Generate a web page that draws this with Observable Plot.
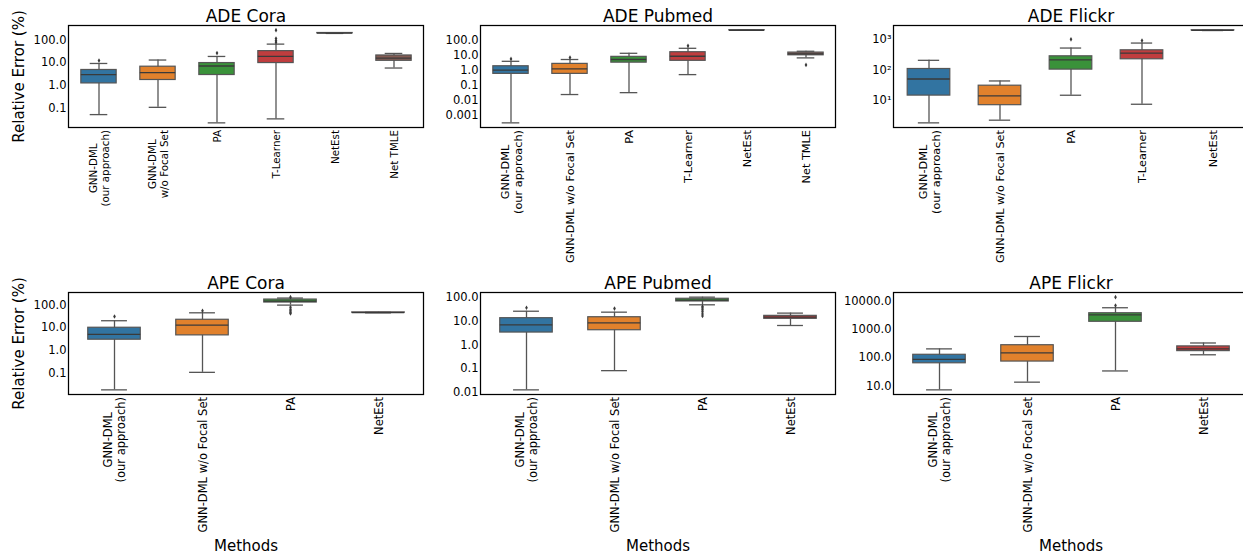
<!DOCTYPE html>
<html><head><meta charset="utf-8">
<script src="https://cdn.jsdelivr.net/npm/d3@7"></script>
<script src="https://cdn.jsdelivr.net/npm/@observablehq/plot@0.6"></script>
<style>
body{margin:0;background:#fff;}
#chart{position:relative;width:1243px;height:556px;overflow:hidden;background:#fff;font-family:"DejaVu Sans";}
#chart svg{position:absolute;}
</style></head><body><div id="chart"></div>
<script>
// ---------- data ----------
const palette = ["#3274a1", "#e1812c", "#3a923a", "#c03d3e", "#9372b2", "#845b53"];

// ADE Cora
const adeCoraMethods = ["GNN-DML\n(our approach)", "GNN-DML\nw/o Focal Set", "PA", "T-Learner", "NetEst", "Net TMLE"];
const adeCoraLo  = [0.051, 0.107, 0.022, 0.033, 198, 5.85];
const adeCoraQ1  = [1.22, 1.73, 2.87, 9.7, 201, 12.2];
const adeCoraMed = [2.96, 3.63, 7.2, 19, 204, 16.1];
const adeCoraQ3  = [4.8, 6.7, 9.7, 32.7, 207, 21];
const adeCoraHi  = [9.3, 13.2, 19, 66.7, 210, 25.8];
const adeCoraOut = [[0, 12.5], [2, 26.7], [3, 80], [3, 95], [3, 118], [3, 277]];
const adeCoraTicks = [0.1, 1, 10, 100];

// ADE Pubmed
const adePubMethods = ["GNN-DML\n(our approach)", "GNN-DML w/o Focal Set", "PA", "T-Learner", "NetEst", "Net TMLE"];
const adePubLo  = [0.00032, 0.024, 0.032, 0.5, 425, 6.4];
const adePubQ1  = [0.56, 0.56, 3.1, 4.1, 430, 9.5];
const adePubMed = [1.0, 1.2, 5.0, 8.2, 433, 11.7];
const adePubQ3  = [1.79, 2.57, 7.5, 15.2, 436, 14.4];
const adePubHi  = [3.8, 5.0, 12.9, 27.6, 440, 17.6];
const adePubOut = [[0, 5.5], [1, 6.7], [3, 40], [5, 2.2]];
const adePubTicks = [0.001, 0.01, 0.1, 1, 10, 100];

// ADE Flickr
const adeFlkMethods = ["GNN-DML\n(our approach)", "GNN-DML w/o Focal Set", "PA", "T-Learner", "NetEst"];
const adeFlkLo  = [1.77, 2.17, 14.5, 7.3, 2000];
const adeFlkQ1  = [14.1, 6.8, 102, 224, 2015];
const adeFlkMed = [50, 13.8, 213, 357, 2030];
const adeFlkQ3  = [107, 30, 281, 444, 2045];
const adeFlkHi  = [207, 43, 527, 770, 2060];
const adeFlkOut = [[2, 1020], [3, 930]];
const adeFlkTicks = [10, 100, 1000];

// APE Cora
const apeMethods = ["GNN-DML\n(our approach)", "GNN-DML w/o Focal Set", "PA", "NetEst"];
const apeCoraLo  = [0.018, 0.107, 100, 45.5];
const apeCoraQ1  = [2.96, 4.6, 130, 46.3];
const apeCoraMed = [5.07, 13.1, 150, 47];
const apeCoraQ3  = [10, 22.5, 176, 47.7];
const apeCoraHi  = [20.4, 45.7, 205, 48.5];
const apeCoraOut = [[0, 31.5], [1, 56], [2, 225], [2, 80], [2, 66], [2, 56], [2, 48], [2, 42.7]];
const apeCoraTicks = [0.1, 1, 10, 100];

// APE Pubmed
const apePubLo  = [0.0129, 0.083, 49, 6.6];
const apePubQ1  = [3.33, 4.17, 67.7, 12.6];
const apePubMed = [7.05, 8.5, 77, 14.8];
const apePubQ3  = [13.4, 14.7, 88, 16.8];
const apePubHi  = [26.3, 24, 103, 21.9];
const apePubOut = [[0, 37], [1, 34], [2, 42], [2, 36], [2, 30], [2, 25], [2, 20], [2, 16.5]];
const apePubTicks = [0.01, 0.1, 1, 10, 100];

// APE Flickr
const apeFlkLo  = [7.2, 13.5, 33.7, 126];
const apeFlkQ1  = [63, 72.5, 1860, 170];
const apeFlkMed = [87, 148, 3290, 205];
const apeFlkQ3  = [126, 275, 3740, 250];
const apeFlkHi  = [204, 560, 5850, 330];
const apeFlkOut = [[2, 7060], [2, 13900]];
const apeFlkTicks = [10, 100, 1000, 10000];

const titles = ["ADE Cora", "ADE Pubmed", "ADE Flickr", "APE Cora", "APE Pubmed", "APE Flickr"];
const yLabel = "Relative Error (%)";
const xLabel = "Methods";

// ---------- layout ----------
const W = 355, H = 102;
const colLeft = [68, 480, 892.5];
const rowTop = [25, 292.3];
const LINE = "#555555", MED = "#3a3a3a";

const decFmt = v => v >= 1 ? v.toFixed(1) : String(v);
const sup = {"0":"⁰","1":"¹","2":"²","3":"³","4":"⁴","5":"⁵","6":"⁶","7":"⁷","8":"⁸","9":"⁹"};
const supFmt = v => "10" + String(Math.round(Math.log10(v))).split("").map(c => sup[c]).join("");

const panels = [
  {t: titles[0], m: adeCoraMethods, lo: adeCoraLo, q1: adeCoraQ1, med: adeCoraMed, q3: adeCoraQ3, hi: adeCoraHi, out: adeCoraOut, ticks: adeCoraTicks, fmt: decFmt, col: 0, row: 0, xfs: 10.3},
  {t: titles[1], m: adePubMethods, lo: adePubLo, q1: adePubQ1, med: adePubMed, q3: adePubQ3, hi: adePubHi, out: adePubOut, ticks: adePubTicks, fmt: decFmt, col: 1, row: 0, xfs: 11.3},
  {t: titles[2], m: adeFlkMethods, lo: adeFlkLo, q1: adeFlkQ1, med: adeFlkMed, q3: adeFlkQ3, hi: adeFlkHi, out: adeFlkOut, ticks: adeFlkTicks, fmt: supFmt, col: 2, row: 0, xfs: 11.3},
  {t: titles[3], m: apeMethods, lo: apeCoraLo, q1: apeCoraQ1, med: apeCoraMed, q3: apeCoraQ3, hi: apeCoraHi, out: apeCoraOut, ticks: apeCoraTicks, fmt: decFmt, col: 0, row: 1, xfs: 11.5},
  {t: titles[4], m: apeMethods, lo: apePubLo, q1: apePubQ1, med: apePubMed, q3: apePubQ3, hi: apePubHi, out: apePubOut, ticks: apePubTicks, fmt: decFmt, col: 1, row: 1, xfs: 11.5},
  {t: titles[5], m: apeMethods, lo: apeFlkLo, q1: apeFlkQ1, med: apeFlkMed, q3: apeFlkQ3, hi: apeFlkHi, out: apeFlkOut, ticks: apeFlkTicks, fmt: decFmt, col: 2, row: 1, xfs: 11.5}
];

const ctx = document.createElement("canvas").getContext("2d");
function measure(s, size) { ctx.font = `${size}px "DejaVu Sans"`; return ctx.measureText(s).width; }

const chart = document.getElementById("chart");

for (const p of panels) {
  const n = p.m.length;
  const rows = p.m.map((m, i) => ({m, lo: p.lo[i], q1: p.q1[i], med: p.med[i], q3: p.q3[i], hi: p.hi[i]}));
  const outs = p.out.map(([i, v]) => ({m: p.m[i], v}));
  const logs = [...p.lo, ...p.hi, ...outs.map(d => d.v)].map(Math.log10);
  const a = d3.min(logs), b = d3.max(logs), pad = (b - a) * 0.05;
  const domain = [10 ** (a - pad), 10 ** (b + pad)];
  const bw = W / n;
  const ML = p.col === 0 ? 68 : 62, MT = 27, MR = 4, MB = p.row === 0 ? 150 : 165;

  const marks = [
    Plot.ruleX(rows, {x: "m", y1: "lo", y2: "hi", stroke: LINE, strokeWidth: 1.3}),
    Plot.tickY(rows, {x: "m", y: "lo", insetLeft: bw * 0.35, insetRight: bw * 0.35, stroke: LINE, strokeWidth: 1.3}),
    Plot.tickY(rows, {x: "m", y: "hi", insetLeft: bw * 0.35, insetRight: bw * 0.35, stroke: LINE, strokeWidth: 1.3}),
    Plot.barY(rows, {x: "m", y1: "q1", y2: "q3", insetLeft: bw * 0.2, insetRight: bw * 0.2, fill: "m", stroke: LINE, strokeWidth: 1.2}),
    Plot.tickY(rows, {x: "m", y: "med", insetLeft: bw * 0.2, insetRight: bw * 0.2, stroke: MED, strokeWidth: 1.3}),
    Plot.dot(outs, {x: "m", y: "v", r: 1.4, fill: MED, stroke: null, symbol: "diamond"}),
    Plot.axisY({ticks: p.ticks, tickFormat: p.fmt, tickSize: 0, tickPadding: 2, fontSize: 11.5, label: null}),
    Plot.text([p.t], {frameAnchor: "top", text: d => d, dy: -3.5, lineAnchor: "bottom", fontSize: 17}),
    Plot.frame({stroke: "#000", strokeWidth: 1.25})
  ];
  for (const m of p.m) {
    const w = d3.max(m.split("\n"), s => measure(s, p.xfs));
    marks.push(Plot.text([m], {x: d => d, text: d => d, frameAnchor: "bottom", rotate: -90,
      textAnchor: "middle", lineAnchor: "middle", lineHeight: 1.15, dy: 2.5 + w / 2, fontSize: p.xfs}));
  }
  if (p.col === 0) {
    marks.push(Plot.text([yLabel], {frameAnchor: "left", text: d => d, rotate: -90, dx: -49,
      textAnchor: "middle", lineAnchor: "middle", fontSize: 15}));
  }
  if (p.row === 1) {
    marks.push(Plot.text([xLabel], {frameAnchor: "bottom", text: d => d, dy: 151.5, lineAnchor: "middle", fontSize: 15}));
  }

  const svg = Plot.plot({
    width: ML + W + MR,
    height: MT + H + MB,
    marginLeft: ML, marginRight: MR, marginTop: MT, marginBottom: MB,
    x: {type: "band", domain: p.m, padding: 0, axis: null},
    y: {type: "log", domain, label: null},
    color: {domain: p.m, range: palette.slice(0, n)},
    style: {fontFamily: "DejaVu Sans", background: "transparent", overflow: "visible", color: "#000"},
    marks
  });
  svg.style.left = (colLeft[p.col] - ML) + "px";
  svg.style.top = (rowTop[p.row] - MT) + "px";
  chart.appendChild(svg);
}
</script></body></html>
